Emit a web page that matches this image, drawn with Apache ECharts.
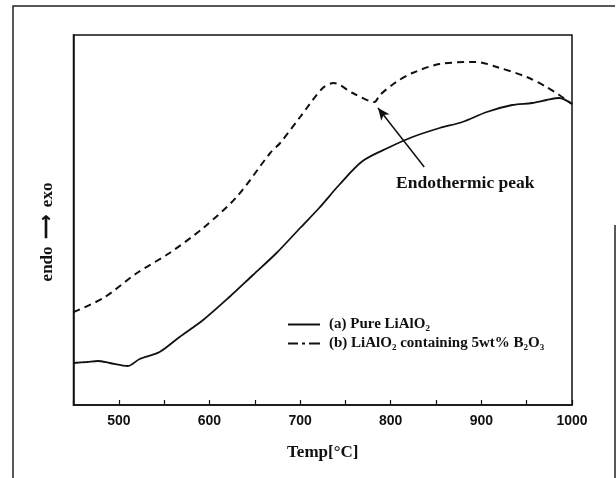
<!DOCTYPE html>
<html>
<head>
<meta charset="utf-8">
<script src="https://cdn.jsdelivr.net/npm/echarts@6/dist/echarts.min.js"></script>
<style>html,body{margin:0;padding:0;background:#fff}#c{width:616px;height:478px}</style>
</head>
<body>
<div id="c"></div>
<script>
// Data (arbitrary heat-flow units)
const tempA = [450,465,477,490,510,523,545,567,593,622,648,674,700,721,743,769,799,824,854,879,906,934,956,972,986,1000];
const valA  = [42,43,44,42,39,46,53,68,85,108,130,152,177,197,220,244,258,268,277,283,293,300,302,305,307,301];
const tempB = [450,483,520,556,593,630,667,678,700,725,737,758,782,788,806,824,854,895,917,950,972,986,1000];
const valB  = [93,107,132,152,177,208,252,262,288,317,322,312,303,310,323,332,341,343,338,328,318,310,301];
const xTickLabels = [500,600,700,800,900,1000];
const seriesNames = ['(a) Pure LiAlO{sub|2}', '(b) LiAlO{sub|2} containing 5wt% B{sub|2}O{sub|3}'];
const arrowFrom = [837, 238];
const arrowTo = [786, 297];

const serif = '"Liberation Serif","Times New Roman",serif';
const sans = '"Liberation Sans",Arial,sans-serif';
const chart = echarts.init(document.getElementById('c'), null, {renderer:'canvas'});
chart.setOption({
  animation:false,
  backgroundColor:'#fff',
  grid:{left:73.5, right:44, top:35, bottom:73, show:true, borderColor:'#111', borderWidth:1.5},
  xAxis:{type:'value', min:450, max:1000, interval:50,
    name:'Temp[°C]', nameLocation:'middle', nameGap:39,
    nameTextStyle:{fontFamily:serif, fontWeight:'bold', fontSize:17, color:'#111'},
    axisLine:{show:true, lineStyle:{color:'#111', width:1.5}},
    axisTick:{inside:true, length:5, lineStyle:{color:'#111', width:1.2}},
    axisLabel:{margin:9, fontFamily:sans, fontWeight:'bold', fontSize:14, color:'#111',
      formatter:v=> xTickLabels.indexOf(v)>=0 ? String(v) : ''},
    splitLine:{show:false}},
  yAxis:{type:'value', min:0, max:370,
    axisLine:{show:true, lineStyle:{color:'#111', width:1.5}},
    axisTick:{show:false}, axisLabel:{show:false}, splitLine:{show:false}},
  legend:{orient:'vertical', left:283, top:312, itemWidth:32, itemHeight:2, itemGap:3,
    textStyle:{fontFamily:serif, fontWeight:'bold', fontSize:15, color:'#111', padding:[0,0,0,4],
      rich:{sub:{fontFamily:serif, fontWeight:'bold', fontSize:9, color:'#111', verticalAlign:'bottom', padding:[8,0,0,0]}}},
    data:[
      {name:seriesNames[0], icon:'path://M0,0h32v2h-32z'},
      {name:seriesNames[1], icon:'path://M0,0h10v2h-10z M14,0h3v2h-3z M21,0h11v2h-11z'}
    ]},
  series:[
    {name:seriesNames[0], type:'line', symbol:'none', smooth:0.3,
     data:tempA.map((t,i)=>[t,valA[i]]),
     lineStyle:{color:'#111', width:1.8}, itemStyle:{color:'#111'}},
    {name:seriesNames[1], type:'line', symbol:'none', smooth:0.3,
     data:tempB.map((t,i)=>[t,valB[i]]),
     lineStyle:{color:'#111', width:2, type:[7,5]}, itemStyle:{color:'#111'},
     markLine:{silent:true, symbol:['none','arrow'], symbolSize:[8,12],
       lineStyle:{color:'#111', width:1.5, type:'solid'}, label:{show:false},
       data:[[{coord:arrowFrom},{coord:arrowTo}]]}}
  ],
  graphic:[
    {type:'text', left:396, top:174, style:{text:'Endothermic peak', font:'bold 17.5px '+serif, fill:'#111'}},
    {type:'text', x:48, y:232, rotation:Math.PI/2,
     style:{text:'endo \u2009⟶\u2009 exo', font:'bold 17px '+serif, fill:'#111', align:'center', verticalAlign:'middle'}},
    {type:'polyline', shape:{points:[[13,480],[13,6],[615,6]]}, style:{stroke:'#222', lineWidth:1.5, fill:null}},
    {type:'line', shape:{x1:615, y1:225, x2:615, y2:480}, style:{stroke:'#222', lineWidth:1.5}}
  ]
});
</script>
</body>
</html>
